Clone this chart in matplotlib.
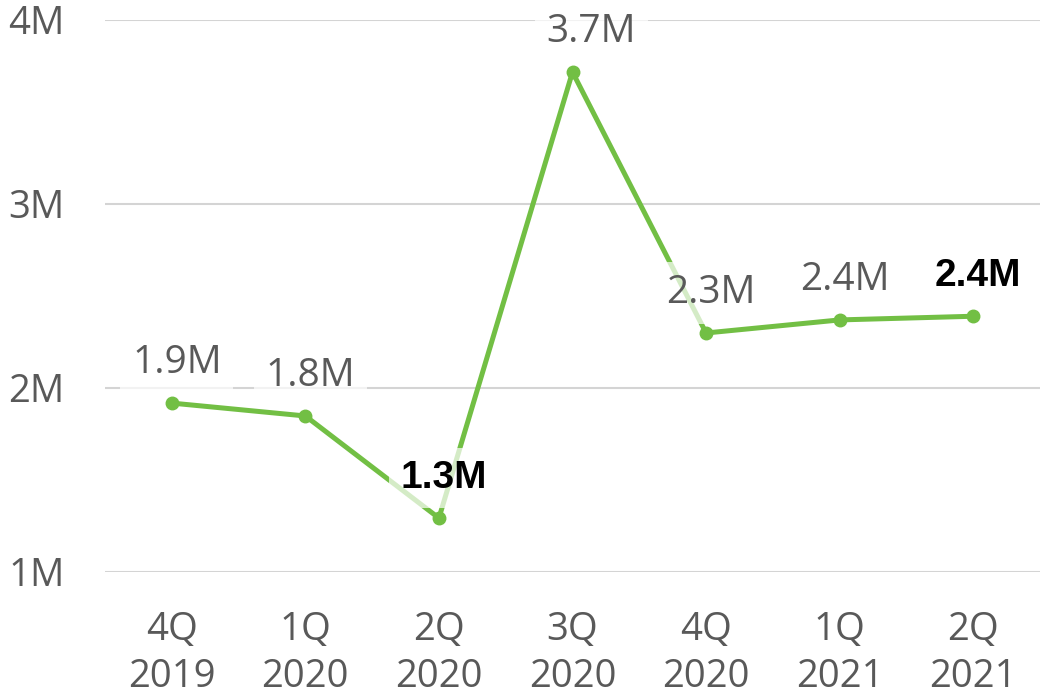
import matplotlib.pyplot as plt

quarters = ['4Q\n2019', '1Q\n2020', '2Q\n2020', '3Q\n2020', '4Q\n2020', '1Q\n2021', '2Q\n2021']
values = [1.918, 1.848, 1.293, 3.717, 2.299, 2.37, 2.39]
labels = ['1.9M', '1.8M', '1.3M', '3.7M', '2.3M', '2.4M', '2.4M']
highlight = [False, False, True, False, False, False, True]
yticks = [1, 2, 3, 4]
ytick_labels = ['1M', '2M', '3M', '4M']

green = '#72BF44'
grey = '#595959'

fig = plt.figure(figsize=(10.4, 6.98), dpi=100)
ax = fig.add_axes([105 / 1040, 1 - 572 / 698, 1 - 105 / 1040, (572 - 20) / 698])

x = list(range(len(values)))
ax.plot(x, values, color=green, lw=3.6, marker='o', ms=9, zorder=2, clip_on=False)

for i, (v, lab, hl) in enumerate(zip(values, labels, highlight)):
    dx = 19 if i == 3 else 5
    if hl:
        kw = dict(fontsize=28, fontweight='bold', color='black', family='Liberation Sans')
    else:
        kw = dict(fontsize=28, color=grey, family='Open Sans')
    ax.annotate(lab, (i, v), xytext=(dx, 30), textcoords='offset pixels',
                ha='center', va='baseline', zorder=3,
                bbox=dict(boxstyle='square,pad=0.3', fc='white', ec='none', alpha=0.7),
                **kw)

ax.set_xlim(-0.5, 6.5)
ax.set_ylim(1, 4)
ax.set_yticks(yticks)
ax.set_yticklabels(ytick_labels)
ax.set_xticks(x)
ax.set_xticklabels(quarters, linespacing=1.3)
ax.grid(axis='y', color='#d4d4d4', lw=1.5, zorder=0)
ax.set_axisbelow(True)
for s in ax.spines.values():
    s.set_visible(False)
ax.tick_params(length=0, labelsize=27.5, colors=grey)
ax.tick_params(axis='y', pad=29)
ax.tick_params(axis='x', pad=28)
for t in ax.get_xticklabels() + ax.get_yticklabels():
    t.set_family('Open Sans')

fig.savefig('out.png', dpi=100)
